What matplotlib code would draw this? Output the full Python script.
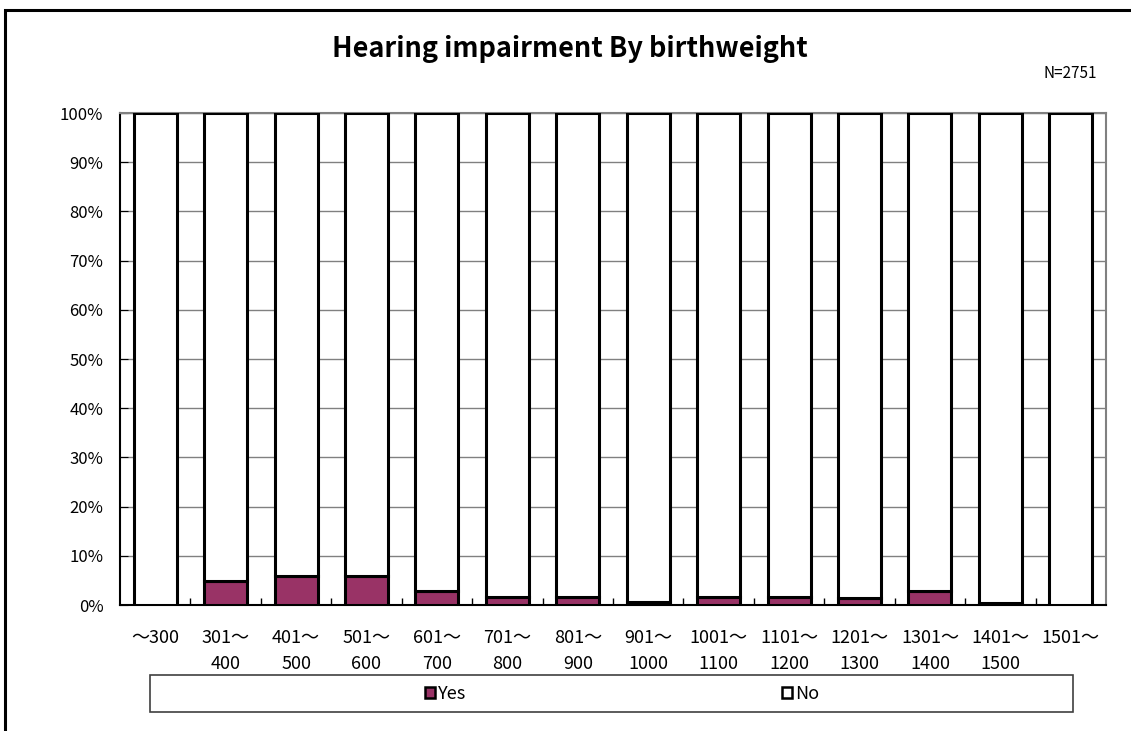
import numpy as np
import matplotlib.pyplot as plt
from matplotlib.patches import Rectangle
from matplotlib.ticker import FixedLocator, PercentFormatter

plt.rcParams['font.family'] = ['Noto Sans CJK JP', 'DejaVu Sans']

categories = ['～300', '301～\n400', '401～\n500', '501～\n600', '601～\n700',
              '701～\n800', '801～\n900', '901～\n1000', '1001～\n1100',
              '1101～\n1200', '1201～\n1300', '1301～\n1400', '1401～\n1500', '1501～']
yes_pct = [0.0, 4.9, 5.8, 5.8, 2.8, 1.7, 1.7, 0.7, 1.7, 1.7, 1.5, 2.9, 0.4, 0.0]
no_pct = [100 - v for v in yes_pct]

W, H = 1131, 731
fig = plt.figure(figsize=(W / 100, H / 100), dpi=100)
ax = fig.add_axes([120 / W, 1 - 605 / H, 986 / W, 492 / H])

# outer chart border (cropped at right and bottom)
fig.patches.append(Rectangle((5 / W, -0.1), 1.2, 1 - 10 / H + 0.1,
                             transform=fig.transFigure, fill=False,
                             edgecolor='black', linewidth=2.2))

x = np.arange(len(categories))
ax.bar(x, yes_pct, width=0.61, color='#993366', edgecolor='black', linewidth=2.2,
       label='Yes', zorder=3)
ax.bar(x, no_pct, width=0.61, bottom=yes_pct, color='white', edgecolor='black',
       linewidth=2.2, label='No', zorder=3)

ax.set_xlim(-0.5, len(categories) - 0.5)
ax.set_ylim(0, 100)
ax.set_yticks(np.arange(0, 101, 10))
ax.yaxis.set_major_formatter(PercentFormatter(decimals=0))
ax.grid(axis='y', color='#808080', linewidth=1, zorder=0)
ax.set_xticks(x)
ax.set_xticklabels(categories, fontsize=13, linespacing=1.6)
ax.xaxis.set_minor_locator(FixedLocator(np.arange(0.5, len(categories) - 1, 1)))
ax.tick_params(axis='x', which='major', length=0, pad=17)
ax.tick_params(axis='x', which='minor', direction='in', length=5, width=1)
ax.tick_params(axis='y', direction='in', length=6, labelsize=12, pad=12)
for s in ['top', 'right']:
    ax.spines[s].set_color('#808080')
    ax.spines[s].set_linewidth(1.5)
for s in ['left', 'bottom']:
    ax.spines[s].set_color('black')
    ax.spines[s].set_linewidth(1.5)

fig.text(570 / W, 1 - 49 / H, 'Hearing impairment By birthweight',
         ha='center', va='center', fontsize=19.5, fontweight='bold')
fig.text(1070 / W, 1 - 73 / H, 'N=2751', ha='center', va='center', fontsize=11)

# legend box
fig.patches.append(Rectangle((150 / W, 1 - 712 / H), 923 / W, 37 / H,
                             transform=fig.transFigure, fill=False,
                             edgecolor='#404040', linewidth=1.2))
leg = fig.legend(loc='center', bbox_to_anchor=(622 / W, 1 - 694 / H),
                 ncol=2, fontsize=13, frameon=False, columnspacing=17.5,
                 handlelength=0.55, handleheight=0.55, handletextpad=0.15,
                 borderaxespad=0)
for h in leg.legend_handles:
    h.set_linewidth(1.8)

fig.savefig('out.png', dpi=100)
